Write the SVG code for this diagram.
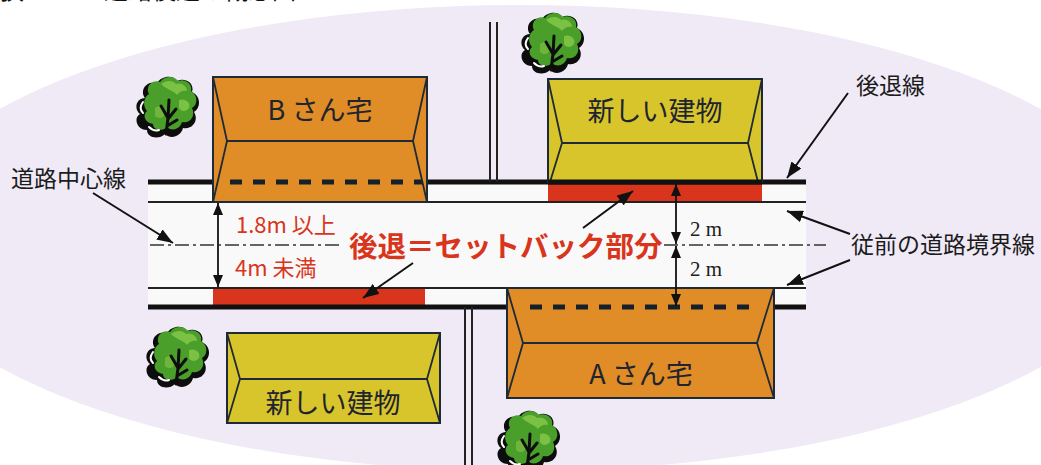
<svg xmlns="http://www.w3.org/2000/svg" xmlns:xlink="http://www.w3.org/1999/xlink" width="1041" height="465" viewBox="0 0 1041 465">
  <style>
    .jp { font-family: "Noto Sans CJK JP", "Noto Sans", sans-serif; }
    .label { font-size: 23px; fill: #1c1c1c; }
    .red { fill: #d8351c; }
    .bldg-orange { fill: #e08c27; stroke: #1e2a38; stroke-width: 2; }
    .bldg-yellow { fill: #d8c52c; stroke: #1e2a38; stroke-width: 2; }
    .roof { fill: none; stroke: #1e2a38; stroke-width: 1.8; }
    .name { font-size: 27px; fill: #1e2430; text-anchor: middle; }
    .thick { stroke: #111; stroke-width: 5; }
    .thin { stroke: #222; stroke-width: 2; }
    .setback-dash { stroke: #14202c; stroke-width: 5; stroke-dasharray: 12 11; }
    .center { stroke: #333; stroke-width: 1.6; stroke-dasharray: 14 4 3 4; fill: none; }
    .leader { stroke: #111; stroke-width: 2; fill: none; marker-end: url(#arr); }
    .dim { stroke: #111; stroke-width: 1.8; fill: none; marker-start: url(#dimhead); marker-end: url(#dimhead); }
    .side { stroke: #222; stroke-width: 2; }
  </style>
  <defs>
    <marker id="arr" viewBox="0 0 16 12" refX="16" refY="6" markerWidth="16" markerHeight="12" markerUnits="userSpaceOnUse" orient="auto">
      <path d="M0,0 L16,6 L0,12 Z" fill="#111"/>
    </marker>
    <marker id="dimhead" viewBox="0 0 12 10" refX="12" refY="5" markerWidth="12" markerHeight="10" markerUnits="userSpaceOnUse" orient="auto-start-reverse">
      <path d="M0,0 L12,5 L0,10 Z" fill="#111"/>
    </marker>
    <!-- stylised tree: dark outline blob, green crown, light patches, branches -->
    <symbol id="tree" viewBox="0 0 72 66">
      <path d="M14,26 C8,18 16,8 26,11 C30,4 42,2 46,9 C54,5 64,11 61,20 C70,24 70,36 63,40 C68,48 62,58 52,56 C50,64 40,68 34,62 C28,68 16,66 16,58 C6,58 2,46 9,42 C2,36 6,26 14,26 Z" fill="#0d0d0d"/>
      <path d="M18,22 C14,15 21,7 29,10 C33,4 43,3 47,9 C54,6 62,12 60,19 C67,23 67,33 61,36 C65,44 59,52 51,50 C49,57 41,60 36,55 C31,60 22,58 22,52 C14,51 11,43 16,39 C11,33 13,25 18,22 Z" fill="#4a9e2a"/>
      <path d="M30,12 C35,8 42,8 45,12 C50,10 56,14 56,19 C52,18 48,20 46,23 C42,18 36,18 30,12 Z" fill="#7bc143"/>
      <path d="M48,28 C54,26 60,30 58,36 C55,40 50,40 48,36 Z" fill="#7bc143"/>
      <path d="M24,36 C28,32 34,34 34,40 C34,46 28,48 24,44 Z" fill="#6fb53b"/>
      <path d="M12,30 C9,34 9,38 12,41 M18,55 C21,58 25,59 28,58" stroke="#ffffff" stroke-width="2" fill="none" stroke-linecap="round"/>
      <path d="M35,62 L37,46 L30,34 M37,47 L45,37 M36,54 L46,48 M37,46 L38,28" stroke="#0d0d0d" stroke-width="3" fill="none" stroke-linecap="round" stroke-linejoin="round"/>
    </symbol>
  </defs>

  <!-- ground -->
  <rect x="0" y="0" width="1041" height="465" fill="#ffffff"/>
  <ellipse cx="520" cy="238" rx="625" ry="233" fill="#efeaf6"/>

  <!-- heading, running off the top edge -->
  <g id="heading" class="jp" font-size="24" fill="#111">
    <text x="0" y="-1">狭い</text>
    <text x="104" y="-1">道路後退の概念図</text>
  </g>

  <!-- road surface and side street -->
  <g id="road">
    <rect x="148" y="182" width="658" height="125" fill="#f9f9f9"/>
    <rect x="548" y="182" width="214" height="20" fill="#d8351c"/>
    <rect x="213" y="288" width="212" height="19" fill="#d8351c"/>
    <line class="thin" x1="148" y1="202" x2="806" y2="202"/>
    <line class="thin" x1="148" y1="288" x2="806" y2="288"/>
    <line class="thick" x1="148" y1="182" x2="806" y2="182"/>
    <line class="thick" x1="148" y1="307" x2="806" y2="307"/>
    <line class="side" x1="490" y1="22" x2="490" y2="182"/>
    <line class="side" x1="497" y1="22" x2="497" y2="182"/>
    <line class="side" x1="465" y1="307" x2="465" y2="465"/>
    <line class="side" x1="472" y1="307" x2="472" y2="465"/>
    <path class="center" d="M150,245 H343"/>
    <path class="center" d="M664,245 H826"/>
  </g>

  <!-- trees -->
  <g id="trees">
    <use xlink:href="#tree" href="#tree" x="131" y="72" width="72" height="66"/>
    <use xlink:href="#tree" href="#tree" x="516" y="8" width="72" height="66"/>
    <use xlink:href="#tree" href="#tree" x="141" y="322" width="72" height="66"/>
    <use xlink:href="#tree" href="#tree" x="492" y="406" width="72" height="66"/>
  </g>

  <!-- house B, upper left -->
  <g id="house-b">
    <rect class="bldg-orange" x="213" y="77" width="214" height="125"/>
    <path class="roof" d="M213,77 L227,141 L213,202 M427,77 L413,141 L427,202 M227,141 H413"/>
    <line class="setback-dash" x1="230" y1="182" x2="422" y2="182"/>
    <text class="jp name" x="320" y="120">B さん宅</text>
  </g>

  <!-- new building, upper right -->
  <g id="new-building-upper">
    <rect class="bldg-yellow" x="548" y="79" width="214" height="103"/>
    <path class="roof" d="M548,79 L562,143 L550,182 M762,79 L748,143 L758,182 M562,143 H748"/>
    <line class="thick" x1="548" y1="182" x2="762" y2="182"/>
    <text class="jp name" x="655" y="121" font-size="28">新しい建物</text>
  </g>

  <!-- house A, lower right -->
  <g id="house-a">
    <rect class="bldg-orange" x="507" y="288" width="267" height="110"/>
    <path class="roof" d="M507,288 L523,343 L507,398 M774,288 L757,343 L774,398 M523,343 H757"/>
    <line class="setback-dash" x1="530" y1="307" x2="760" y2="307"/>
    <text class="jp name" x="641" y="384">A さん宅</text>
  </g>

  <!-- new building, lower left -->
  <g id="new-building-lower">
    <rect class="bldg-yellow" x="227" y="333" width="213" height="90"/>
    <path class="roof" d="M227,333 L240,379 L227,423 M440,333 L427,379 L440,423 M240,379 H427"/>
    <text class="jp name" x="333" y="413" font-size="28">新しい建物</text>
  </g>

  <!-- dimension and leader connectors -->
  <g id="connectors">
    <line class="dim" x1="218" y1="203" x2="218" y2="287"/>
    <line class="dim" x1="676" y1="184" x2="676" y2="244"/>
    <line class="dim" x1="676" y1="246" x2="676" y2="306"/>
    <line class="leader" x1="93" y1="193" x2="173" y2="243"/>
    <line class="leader" x1="848" y1="93" x2="787" y2="178"/>
    <line class="leader" x1="850" y1="234" x2="787" y2="211"/>
    <line class="leader" x1="850" y1="260" x2="787" y2="285"/>
    <line class="leader" x1="413" y1="263" x2="363" y2="298"/>
    <line class="leader" x1="583" y1="228" x2="633" y2="191"/>
  </g>

  <!-- labels -->
  <g id="labels">
    <text class="jp label" x="11" y="187">道路中心線</text>
    <text class="jp label" x="856" y="94" font-size="22">後退線</text>
    <text class="jp label" x="851" y="253">従前の道路境界線</text>
    <text class="jp red" x="236" y="233" font-size="22">1.8m 以上</text>
    <text class="jp red" x="235" y="276" font-size="22">4m 未満</text>
    <text class="jp red" x="349" y="257" font-size="28.5" font-weight="bold">後退＝セットバック部分</text>
    <text x="690" y="236" font-family="Liberation Serif, serif" font-size="21" fill="#1c1c1c">2 m</text>
    <text x="690" y="276" font-family="Liberation Serif, serif" font-size="21" fill="#1c1c1c">2 m</text>
  </g>
</svg>
